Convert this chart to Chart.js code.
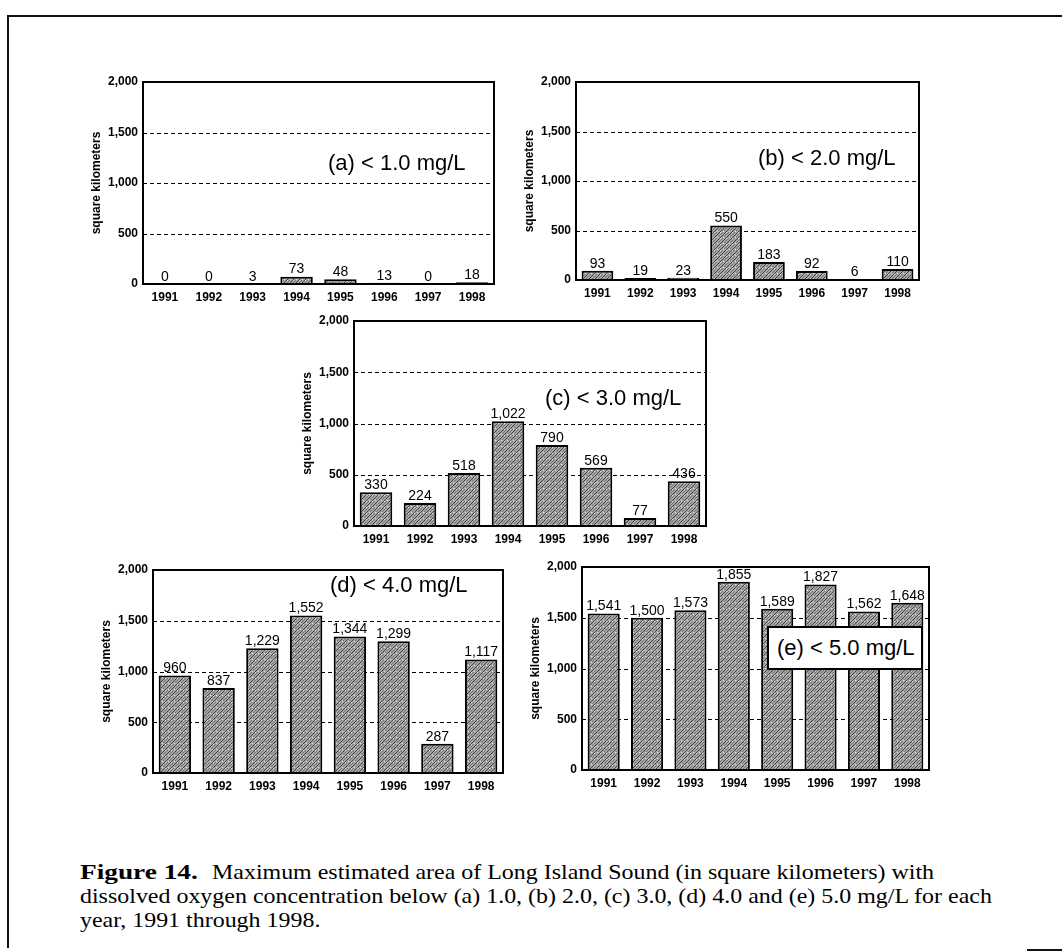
<!DOCTYPE html>
<html>
<head>
<meta charset="utf-8">
<script src="https://cdn.jsdelivr.net/npm/chart.js@4/dist/chart.umd.min.js"></script>
<style>
  html, body { margin: 0; padding: 0; background: #fff; }
  body { width: 1062px; height: 951px; position: relative; overflow: hidden; }
  canvas.panel { position: absolute; }
  .frame-top { position: absolute; left: 8px; top: 15px; width: 1054px; height: 2px; background: #111; }
  .frame-left { position: absolute; left: 7px; top: 15px; width: 2px; height: 933px; background: #111; }
  .frame-bottom { position: absolute; left: 1027px; top: 949px; width: 35px; height: 2px; background: #111; }
  .tag { position: absolute; font-family: "Liberation Sans", Arial, sans-serif; font-size: 22px; color: #000; white-space: nowrap; line-height: 1; }
  .tag.boxed { background: #fff; border: 2px solid #000; padding: 9px 6px 9px 8px; }
  .cap { position: absolute; font-family: "Liberation Serif", "Times New Roman", serif; font-size: 21px; line-height: 24px; color: #000; white-space: nowrap; transform-origin: 0 0; transform: scaleX(1.14); }
  .cap.lead { font-weight: bold; transform: scaleX(1.3); }
</style>
</head>
<body>
<div class="frame-top"></div>
<div class="frame-left"></div>
<div class="frame-bottom"></div>

<canvas class="panel" id="pa"></canvas>
<canvas class="panel" id="pb"></canvas>
<canvas class="panel" id="pc"></canvas>
<canvas class="panel" id="pd"></canvas>
<canvas class="panel" id="pe"></canvas>

<div class="tag" style="left:328px; top:152px;">(a) &lt; 1.0 mg/L</div>
<div class="tag" style="left:758px; top:147px;">(b) &lt; 2.0 mg/L</div>
<div class="tag" style="left:545px; top:387px;">(c) &lt; 3.0 mg/L</div>
<div class="tag" style="left:330px; top:574px;">(d) &lt; 4.0 mg/L</div>
<div class="tag boxed" style="left:767px; top:626px;">(e) &lt; 5.0 mg/L</div>

<div class="cap lead" style="left:80px; top:860px;">Figure 14.</div>
<div class="cap" style="left:212px; top:860px;">Maximum estimated area of Long Island Sound (in square kilometers) with</div>
<div class="cap" style="left:80px; top:884px;">dissolved oxygen concentration below (a) 1.0, (b) 2.0, (c) 3.0, (d) 4.0 and (e) 5.0 mg/L for each</div>
<div class="cap" style="left:80px; top:908px;">year, 1991 through 1998.</div>

<script>
// Survey years on the category axis
const years = ['1991', '1992', '1993', '1994', '1995', '1996', '1997', '1998'];

// Maximum hypoxic area (square kilometers) below each dissolved-oxygen threshold
const areaBelow1 = [0, 0, 3, 73, 48, 13, 0, 18];
const areaBelow2 = [93, 19, 23, 550, 183, 92, 6, 110];
const areaBelow3 = [330, 224, 518, 1022, 790, 569, 77, 436];
const areaBelow4 = [960, 837, 1229, 1552, 1344, 1299, 287, 1117];
const areaBelow5 = [1541, 1500, 1573, 1855, 1589, 1827, 1562, 1648];

// Value axis ticks shared by all panels
const yTicks = [0, 500, 1000, 1500, 2000];

const SANS = '"Liberation Sans", Arial, sans-serif';
const fmt = v => Number(v).toLocaleString('en-US');

// Stippled gray fill for the bars
function makeTexture() {
  const c = document.createElement('canvas');
  c.width = 6; c.height = 6;
  const g = c.getContext('2d');
  g.fillStyle = '#a6a6a6';
  g.fillRect(0, 0, 6, 6);
  g.fillStyle = '#404040';
  for (let i = 0; i < 6; i++) g.fillRect(i, 5 - i, 1, 1);
  g.fillStyle = '#747474';
  for (let i = 0; i < 6; i++) g.fillRect((i + 3) % 6, 5 - i, 1, 1);
  g.fillStyle = '#e4e4e4';
  g.fillRect(1, 1, 1, 1); g.fillRect(4, 2, 1, 1);
  return g.createPattern(c, 'repeat');
}
const texture = makeTexture();

// Dashed reference lines behind the bars, drawn at the axis ticks
const gridPlugin = {
  id: 'dashedGrid',
  beforeDatasetsDraw(chart) {
    const { ctx, chartArea: a, scales: { y } } = chart;
    ctx.save();
    ctx.strokeStyle = '#000';
    ctx.lineWidth = 1.2;
    ctx.setLineDash([4, 3]);
    yTicks.slice(1, -1).forEach(v => {
      const py = Math.round(y.getPixelForValue(v)) + 0.5;
      ctx.beginPath();
      ctx.moveTo(a.left, py);
      ctx.lineTo(a.right, py);
      ctx.stroke();
    });
    ctx.restore();
  }
};

// Closed frame around the plotting area and value labels over the bars
const framePlugin = {
  id: 'frameAndLabels',
  afterDatasetsDraw(chart) {
    const { ctx, chartArea: a } = chart;
    ctx.save();
    ctx.strokeStyle = '#000';
    ctx.lineWidth = 2;
    ctx.strokeRect(a.left, a.top, a.right - a.left, a.bottom - a.top);
    ctx.fillStyle = '#000';
    ctx.font = '14px ' + SANS;
    ctx.textAlign = 'center';
    ctx.textBaseline = 'bottom';
    const meta = chart.getDatasetMeta(0);
    const vals = chart.data.datasets[0].data;
    meta.data.forEach((bar, i) => {
      ctx.fillText(fmt(vals[i]), bar.x, bar.y);
    });
    ctx.restore();
  }
};

const Y_WIDTH = 58, X_HEIGHT = 28, PAD_TOP = 20, PAD_RIGHT = 20;

function panel(id, values, rect) {
  const el = document.getElementById(id);
  const w = (rect.R - rect.L) + Y_WIDTH + PAD_RIGHT;
  const h = (rect.B - rect.T) + PAD_TOP + X_HEIGHT;
  el.width = w; el.height = h;
  el.style.left = (rect.L - Y_WIDTH) + 'px';
  el.style.top = (rect.T - PAD_TOP) + 'px';
  el.style.width = w + 'px';
  el.style.height = h + 'px';
  new Chart(el, {
    type: 'bar',
    data: {
      labels: years,
      datasets: [{
        data: values,
        backgroundColor: texture,
        borderColor: '#000',
        borderWidth: 2,
        borderSkipped: 'bottom',
        barPercentage: 0.74,
        categoryPercentage: 1.0
      }]
    },
    options: {
      responsive: false,
      animation: false,
      devicePixelRatio: 1,
      layout: { padding: { top: PAD_TOP, right: PAD_RIGHT, left: 0, bottom: 0 } },
      plugins: { legend: { display: false }, tooltip: { enabled: false } },
      scales: {
        x: {
          grid: { display: false, drawTicks: false },
          border: { display: false },
          ticks: { color: '#000', font: { family: SANS, size: 12, weight: 'bold' }, padding: 6, maxRotation: 0, autoSkip: false },
          afterFit: s => { s.height = X_HEIGHT; }
        },
        y: {
          min: 0, max: 2000,
          afterBuildTicks: s => { s.ticks = yTicks.map(v => ({ value: v })); },
          grid: { display: false, drawTicks: false },
          border: { display: false },
          ticks: { color: '#000', font: { family: SANS, size: 12, weight: 'bold' }, padding: 5, callback: v => fmt(v) },
          title: { display: true, text: 'square kilometers', color: '#000', font: { family: SANS, size: 12, weight: 'bold' }, padding: { top: 4, bottom: 0 } },
          afterFit: s => { s.width = Y_WIDTH; }
        }
      }
    },
    plugins: [gridPlugin, framePlugin]
  });
}

panel('pa', areaBelow1, { L: 143, T: 82, R: 494, B: 284 });
panel('pb', areaBelow2, { L: 576, T: 82, R: 919, B: 280 });
panel('pc', areaBelow3, { L: 354, T: 321, R: 706, B: 526 });
panel('pd', areaBelow4, { L: 153, T: 570, R: 503, B: 773 });
panel('pe', areaBelow5, { L: 582, T: 567, R: 929, B: 770 });
</script>
</body>
</html>
